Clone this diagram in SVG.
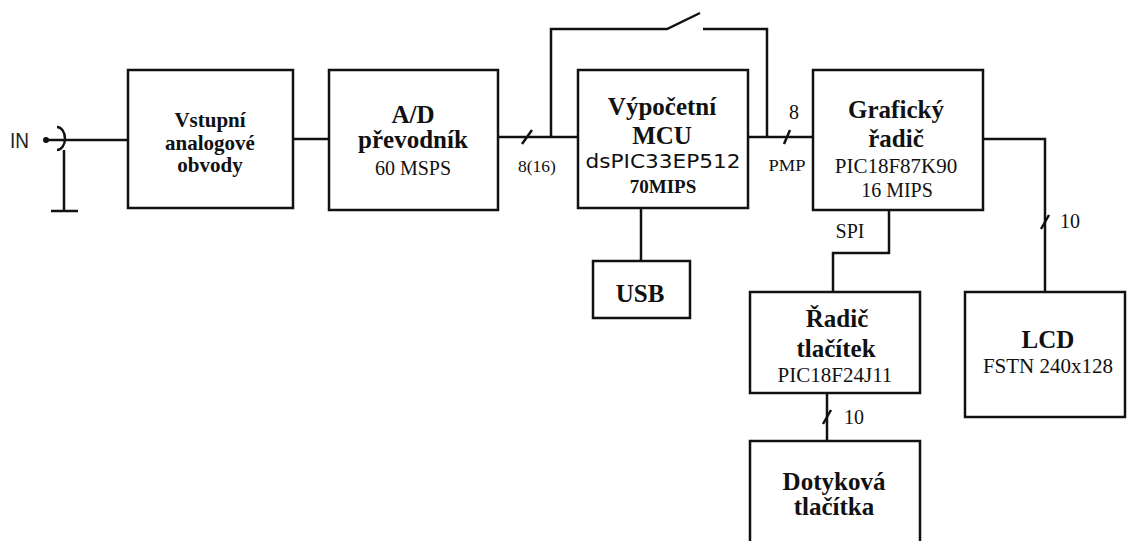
<svg xmlns="http://www.w3.org/2000/svg" width="1127" height="541" viewBox="0 0 1127 541">
<style>
.b{fill:#fff;stroke:#111;stroke-width:2.5}
.c{fill:none;stroke:#111;stroke-width:2.5}
.t{font-family:"Liberation Serif",serif;font-weight:bold;fill:#111;text-anchor:middle}
.r{font-family:"Liberation Serif",serif;fill:#111;text-anchor:middle}
</style>
<rect width="1127" height="541" fill="#fff"/>
<g id="connectors">
<path class="c" d="M46,140 H128"/>
<path class="c" d="M57,127 A8,11.5 0 0 1 57,150"/>
<path class="c" d="M64,150 V211 M51,211 H78"/>
<path class="c" d="M293,139 H329"/>
<path class="c" d="M498,137 H578"/>
<path class="c" d="M522,144 L532,130"/>
<path class="c" d="M551,137 V29 H667 L700,13 M703,29 H767 V137"/>
<path class="c" d="M748,137 H813"/>
<path class="c" d="M784,144 L790,130"/>
<path class="c" d="M641,208 V261"/>
<path class="c" d="M889,210 V253 H833 V292"/>
<path class="c" d="M983,139 H1045 V292"/>
<path class="c" d="M1041,229 L1049,215"/>
<path class="c" d="M827,393 V441"/>
<path class="c" d="M823,424 L831,410"/>
<circle cx="46" cy="140" r="3" fill="#111"/>
<text x="10" y="148" font-family="Liberation Sans,sans-serif" font-size="22" textLength="19" lengthAdjust="spacingAndGlyphs" fill="#222">IN</text>
<text x="537" y="172" class="r" font-size="17.5">8(16)</text>
<text x="794" y="119" class="r" font-size="20">8</text>
<text x="787" y="171" class="r" font-size="17" textLength="37" lengthAdjust="spacingAndGlyphs">PMP</text>
<text x="850" y="238" class="r" font-size="20">SPI</text>
<text x="1070" y="228" class="r" font-size="20">10</text>
<text x="854" y="424" class="r" font-size="20">10</text>
</g>
<g id="vstup">
<rect class="b" x="128" y="70" width="165" height="138"/>
<text class="t" font-size="21" x="210" y="127">Vstupní</text>
<text class="t" font-size="21" x="210" y="150">analogové</text>
<text class="t" font-size="21" x="210" y="172">obvody</text>
</g>
<g id="ad">
<rect class="b" x="329" y="70" width="169" height="140"/>
<text class="t" font-size="25" x="413" y="123">A/D</text>
<text class="t" font-size="25" x="413" y="148">převodník</text>
<text class="r" font-size="20" x="413" y="175">60 MSPS</text>
</g>
<g id="mcu">
<rect class="b" x="578" y="70" width="170" height="138"/>
<text class="t" font-size="25" x="662" y="115">Výpočetní</text>
<text class="t" font-size="25" x="662" y="144">MCU</text>
<text x="663" y="168" font-family="DejaVu Sans,sans-serif" font-size="20" textLength="155" lengthAdjust="spacingAndGlyphs" fill="#111" text-anchor="middle">dsPIC33EP512</text>
<text class="t" font-size="19" x="663" y="193">70MIPS</text>
</g>
<g id="usb">
<rect class="b" x="593" y="261" width="97" height="57"/>
<text class="t" font-size="25" x="640" y="302">USB</text>
</g>
<g id="graficky">
<rect class="b" x="813" y="70" width="170" height="140"/>
<text class="t" font-size="25" x="896" y="118">Grafický</text>
<text class="t" font-size="25" x="896" y="147">řadič</text>
<text class="r" font-size="21" x="896" y="173">PIC18F87K90</text>
<text class="r" font-size="20" x="897" y="197">16 MIPS</text>
</g>
<g id="radic">
<rect class="b" x="750" y="292" width="170" height="101"/>
<text class="t" font-size="25" x="837" y="327">Řadič</text>
<text class="t" font-size="25" x="836" y="357">tlačítek</text>
<text class="r" font-size="21" x="835" y="382">PIC18F24J11</text>
</g>
<g id="lcd">
<rect class="b" x="965" y="292" width="160" height="125"/>
<text class="t" font-size="25" x="1048" y="348">LCD</text>
<text class="r" font-size="21" x="1048" y="373">FSTN 240x128</text>
</g>
<g id="dotykova">
<rect class="b" x="750" y="441" width="170" height="110"/>
<text class="t" font-size="25" x="834" y="490">Dotyková</text>
<text class="t" font-size="25" x="834" y="515">tlačítka</text>
</g>
</svg>
